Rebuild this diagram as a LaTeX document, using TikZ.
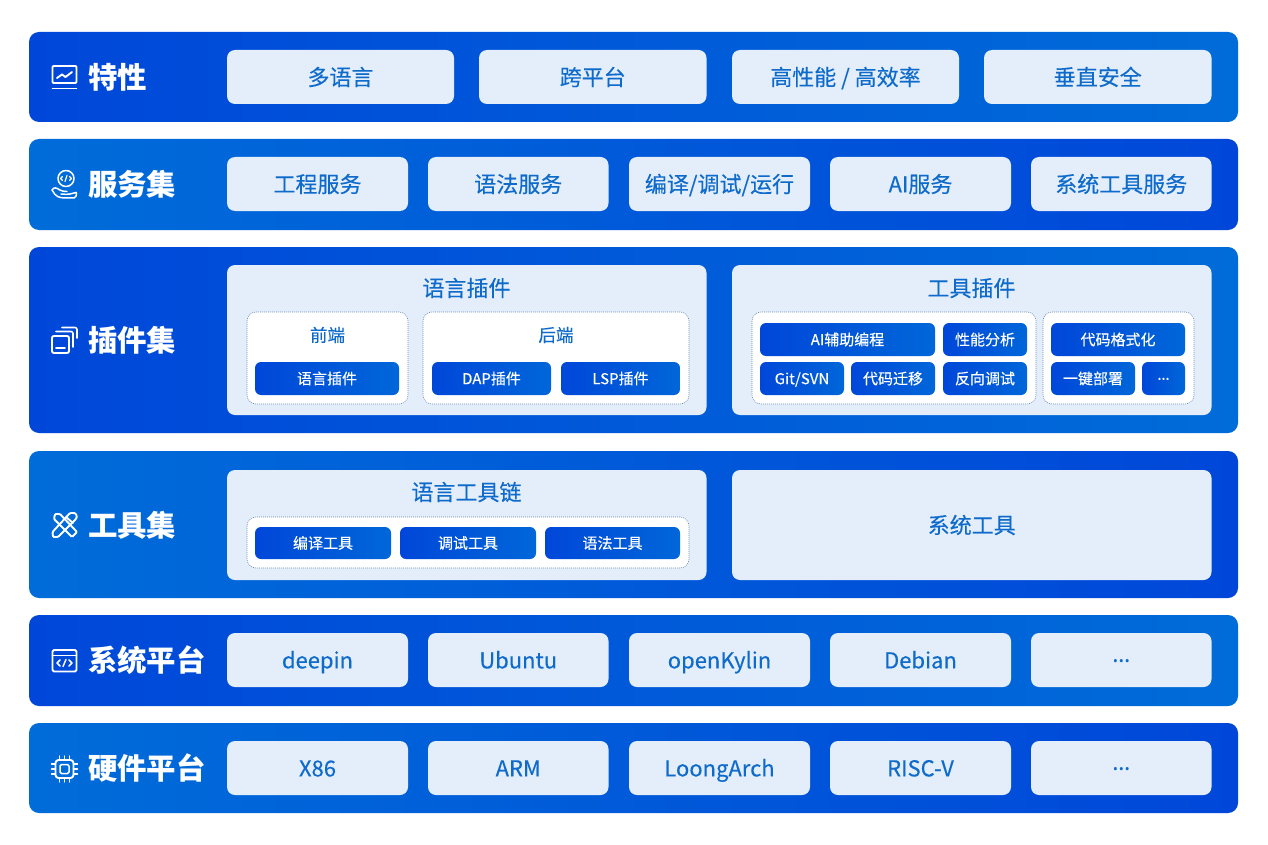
\documentclass[tikz,border=0pt]{standalone}
\usepackage{fontspec}
\setmainfont{Noto Sans CJK SC}[FakeBold=0.3,BoldFeatures={FakeBold=0}]
\newfontfamily\dotfont{Noto Sans}[FakeBold=0.3]
\newcommand{\threedots}{{\dotfont ···}}
\definecolor{bdark}{HTML}{0047D9}
\definecolor{blite}{HTML}{006CD9}
\definecolor{pale}{HTML}{E3EEFA}
\definecolor{ink}{HTML}{0F6BCB}
\definecolor{dotc}{HTML}{6C8DB4}
\tikzset{
  sz/.style={inner sep=0pt,outer sep=0pt},
  bandLR/.style={sz,rounded corners=10pt,left color=bdark,middle color=bdark!68!blite,right color=blite},
  bandRL/.style={sz,rounded corners=10pt,left color=blite,middle color=bdark!68!blite,right color=bdark},
  palebox/.style={sz,rounded corners=8pt,fill=pale,text=ink,font=\fontsize{22}{24}\selectfont,text height=19.4pt,text depth=2.6pt},
  dotbox/.style={sz,rounded corners=9pt,fill=white,draw=dotc,line width=0.6pt,dash pattern=on 1pt off 1pt},
  chip/.style={sz,rounded corners=6pt,left color=bdark,right color=blite!85!bdark,text=white,font=\fontsize{15}{17}\selectfont,text height=13.2pt,text depth=1.8pt},
  bandlabel/.style={sz,anchor=west,text=white,font=\fontsize{29.4}{31}\bfseries\selectfont,text height=25.8pt,text depth=3.6pt},
  title/.style={sz,text=ink,font=\fontsize{22}{24}\selectfont,text height=19.4pt,text depth=2.6pt},
  subtitle/.style={sz,text=ink,font=\fontsize{17.5}{19}\selectfont,text height=15.4pt,text depth=2.1pt},
  ico/.style={draw=white,line width=1.9pt,line cap=round,line join=round},
  icofine/.style={draw=white,line width=1.2pt,line cap=round,line join=round},
}
% \bx{style}{name}{x1}{y1}{x2}{y2}{text}
\newcommand{\bx}[7]{%
  \pgfmathsetmacro{\bw}{#5-#3}\pgfmathsetmacro{\bh}{#6-#4}%
  \pgfmathsetmacro{\bcx}{(#3+#5)/2}\pgfmathsetmacro{\bcy}{(#4+#6)/2}%
  \node[#1,minimum width=\bw pt,minimum height=\bh pt] (#2) at (\bcx,\bcy) {#7};}
\begin{document}
\begin{tikzpicture}[x=1pt,y=-1pt]
\useasboundingbox (0,0) rectangle (1268,845);
% bands
\bx{bandLR}{b1}{29}{32}{1238}{122}{}
\bx{bandRL}{b2}{29}{139}{1238}{230}{}
\bx{bandLR}{b3}{29}{247}{1238}{433}{}
\bx{bandRL}{b4}{29}{451}{1238}{598}{}
\bx{bandLR}{b5}{29}{615}{1238}{706}{}
\bx{bandRL}{b6}{29}{723}{1238}{813}{}
% band labels
\node[bandlabel] (l1) at (88,77.5) {特性};
\node[bandlabel] (l2) at (88,184.5) {服务集};
\node[bandlabel] (l3) at (88,340.5) {插件集};
\node[bandlabel] (l4) at (88,525) {工具集};
\node[bandlabel] (l5) at (88,660.5) {系统平台};
\node[bandlabel] (l6) at (88,768) {硬件平台};
% row 1
\bx{palebox}{r1a}{227}{50}{454}{104}{多语言}
\bx{palebox}{r1b}{479}{50}{706.5}{104}{跨平台}
\bx{palebox}{r1c}{732}{50}{959}{104}{高性能 / 高效率}
\bx{palebox}{r1d}{984}{50}{1211.5}{104}{垂直安全}
% row 2
\bx{palebox}{r2a}{227}{157}{408}{211}{工程服务}
\bx{palebox}{r2b}{428}{157}{608.5}{211}{语法服务}
\bx{palebox}{r2c}{629}{157}{810}{211}{编译/调试/运行}
\bx{palebox}{r2d}{830}{157}{1011}{211}{AI服务}
\bx{palebox}{r2e}{1031}{157}{1211.5}{211}{系统工具服务}
% row 3
\bx{palebox}{p1}{227}{265}{706.5}{415}{}
\bx{palebox}{p2}{732}{265}{1211.5}{415}{}
\node[title] (p1t) at (466.5,288) {语言插件};
\node[title] (p2t) at (971.5,288) {工具插件};
\bx{dotbox}{d1}{247}{312}{408}{404}{}
\bx{dotbox}{d2}{423}{312}{689}{404}{}
\node[subtitle] (d1t) at (327.5,335) {前端};
\node[subtitle] (d2t) at (556,335) {后端};
\bx{chip}{c1}{255}{362}{399}{395}{语言插件}
\bx{chip}{c2}{432}{362}{551}{395}{DAP插件}
\bx{chip}{c3}{561}{362}{680}{395}{LSP插件}
\bx{dotbox}{d3}{752}{312}{1036}{404}{}
\bx{dotbox}{d4}{1043}{312}{1194}{404}{}
\bx{chip}{c4}{760}{323}{935}{356}{AI辅助编程}
\bx{chip}{c5}{943}{323}{1027}{356}{性能分析}
\bx{chip}{c6}{760}{362}{844}{395}{Git/SVN}
\bx{chip}{c7}{851}{362}{935}{395}{代码迁移}
\bx{chip}{c8}{943}{362}{1027}{395}{反向调试}
\bx{chip}{c9}{1051}{323}{1185}{356}{代码格式化}
\bx{chip}{c10}{1051}{362}{1135}{395}{一键部署}
\bx{chip}{c11}{1142}{362}{1185}{395}{\threedots}
% row 4
\bx{palebox}{t1}{227}{470}{706.5}{580}{}
\bx{palebox}{t2}{732}{470}{1211.5}{580}{系统工具}
\node[title] (t1t) at (466.5,492) {语言工具链};
\bx{dotbox}{d5}{247}{517}{689}{568}{}
\bx{chip}{c12}{255}{527}{391}{559}{编译工具}
\bx{chip}{c13}{400}{527}{536}{559}{调试工具}
\bx{chip}{c14}{545}{527}{680}{559}{语法工具}
% row 5
\bx{palebox}{r5a}{227}{633}{408}{687}{deepin}
\bx{palebox}{r5b}{428}{633}{608.5}{687}{Ubuntu}
\bx{palebox}{r5c}{629}{633}{810}{687}{openKylin}
\bx{palebox}{r5d}{830}{633}{1011}{687}{Debian}
\bx{palebox}{r5e}{1031}{633}{1211.5}{687}{\threedots}
% row 6
\bx{palebox}{r6a}{227}{741}{408}{795}{X86}
\bx{palebox}{r6b}{428}{741}{608.5}{795}{ARM}
\bx{palebox}{r6c}{629}{741}{810}{795}{LoongArch}
\bx{palebox}{r6d}{830}{741}{1011}{795}{RISC-V}
\bx{palebox}{r6e}{1031}{741}{1211.5}{795}{\threedots}
% icon 1: chart on a screen
\draw[ico,rounded corners=1pt] (52.5,66) rectangle (76.5,83);
\draw[ico] (52.5,88.5) -- (76.5,88.5);
\draw[ico] (57,78) -- (62,74.5) -- (65.5,77) -- (72,72);
% icon 2: hand holding code globe
\draw[ico,line width=1.5pt] (66,178.5) circle (8);
\draw[icofine] (62.5,176.5) -- (60.5,178.5) -- (62.5,180.5) (69.5,176.5) -- (71.5,178.5) -- (69.5,180.5) (67,175.5) -- (65,181.5);
\draw[ico,line width=1.5pt,rounded corners=2pt] (52,190) .. controls (54,186.5) and (57,188) .. (61,191) -- (67,191.5) (76,192.5) -- (68,194.5) -- (61,194) (52,190) -- (56,196) -- (62,198) -- (76,198) -- (76.5,192.5);
% icon 3: stacked panels
\draw[ico,rounded corners=2pt] (52,336) rectangle (69,353);
\draw[ico] (56,348) -- (65,348);
\draw[ico,line width=1.6pt,rounded corners=2pt] (56,331.5) -- (73,331.5) -- (73,347);
\draw[ico,line width=1.6pt,rounded corners=2pt] (62,327.5) -- (77,327.5) -- (77,338);
% icon 4: pencil and ruler
\draw[ico,rounded corners=1pt] (55,514) -- (60,514) -- (77,532) -- (72,537) -- (54,519) -- cycle;
\draw[ico,rounded corners=1pt] (70,513) -- (75,513) -- (77,516) -- (76,519) -- (58,537) -- (53,537) -- (52.5,532) -- cycle;
\draw[ico] (66,517) -- (73,523);
% icon 5: code window
\draw[ico,rounded corners=1.5pt] (52.5,650) rectangle (76.5,671.5);
\draw[ico] (52.5,655.5) -- (76.5,655.5);
\draw[icofine,line width=1.5pt] (60,660) -- (57,663) -- (60,666) (69,660) -- (72,663) -- (69,666) (66,659.5) -- (63,666.5);
% icon 6: chip
\draw[ico,rounded corners=3pt] (55.5,760) rectangle (73.5,778);
\draw[ico,rounded corners=1.5pt,line width=1.5pt] (60,764.5) rectangle (69,773.5);
\foreach \d in {-5,0,5}{
  \draw[ico,line width=1.4pt] (64.5+\d,756) -- (64.5+\d,760) (64.5+\d,778) -- (64.5+\d,782)
    (51.5,769+\d) -- (55.5,769+\d) (73.5,769+\d) -- (77.5,769+\d);
}
\end{tikzpicture}
\end{document}
